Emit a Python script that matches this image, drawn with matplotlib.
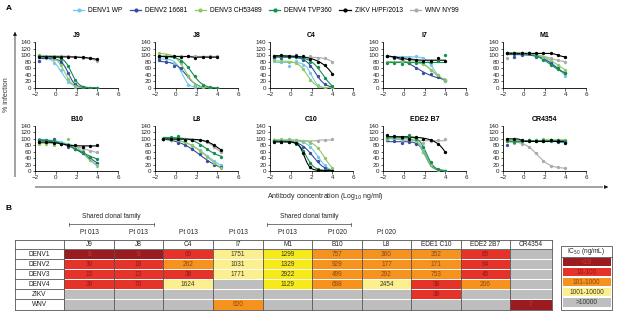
import numpy as np
import matplotlib
matplotlib.use('Agg')
import matplotlib.pyplot as plt
from matplotlib.lines import Line2D
from matplotlib.patches import Rectangle

plt.rcParams['font.family'] = ['Liberation Sans', 'DejaVu Sans']

# ---------------- data ----------------
series_names = ['DENV1 WP', 'DENV2 16681', 'DENV3 CH53489', 'DENV4 TVP360', 'ZIKV H/PF/2013', 'WNV NY99']
series_colors = ['#72C7EF', '#3A4C9F', '#8FC862', '#13904F', '#000000', '#ABABAB']

x_std = [-1.6, -0.9, -0.2, 0.5, 1.2, 1.9, 2.6, 3.3, 4.0]
x_l8 = [-1.2, -0.5, 0.2, 0.9, 1.6, 2.3, 3.0, 3.7, 4.4]

# each panel: DENV1, DENV2, DENV3, DENV4, ZIKV, WNV  (% infection)
J9 = [[97, 92, 75, 55, 18, 3, 1, 1, 1],
      [83, 95, 90, 80, 45, 12, 2, 1, 1],
      [100, 95, 88, 70, 28, 5, 1, 1, 1],
      [97, 95, 95, 88, 68, 25, 3, 1, 1],
      [95, 95, 95, 95, 95, 94, 93, 91, 87],
      [100, 98, 97, 96, 97, 95, 92, 90, 82]]
J8 = [[92, 88, 75, 55, 10, 2, 1, 1, 1],
      [85, 78, 68, 60, 35, 8, 2, 1, 1],
      [108, 100, 95, 75, 38, 8, 2, 1, 1],
      [95, 95, 95, 82, 63, 35, 8, 2, 1],
      [97, 95, 97, 95, 96, 92, 95, 93, 95],
      [98, 97, 97, 96, 97, 96, 95, 96, 97]]
C4 = [[82, 82, 68, 82, 70, 45, 8, 1, 1],
      [92, 90, 95, 100, 85, 68, 35, 12, 3],
      [85, 80, 80, 75, 58, 25, 5, 1, 1],
      [97, 95, 93, 95, 92, 80, 63, 30, 7],
      [97, 100, 97, 97, 96, 88, 80, 70, 43],
      [92, 93, 93, 95, 93, 98, 90, 90, 80]]
I7 = [[97, 92, 95, 95, 97, 90, 70, 40, 22],
      [98, 90, 90, 75, 60, 45, 42, 32, 25],
      [80, 80, 78, 80, 80, 72, 55, 40, 25],
      [75, 75, 74, 76, 76, 78, 80, 82, 100],
      [97, 95, 90, 88, 85, 82, 83, 90, 83],
      [97, 95, 93, 90, 85, 75, 55, 35, 22]]
M1 = [[105, 105, 105, 105, 100, 90, 80, 60, 38],
      [105, 95, 100, 108, 95, 88, 75, 60, 45],
      [108, 105, 108, 105, 100, 95, 85, 70, 55],
      [105, 103, 105, 105, 98, 85, 70, 58, 45],
      [105, 105, 105, 105, 108, 105, 105, 100, 95],
      [90, 105, 108, 105, 100, 95, 90, 85, 80]]
B10 = [[100, 95, 95, 90, 85, 70, 55, 35, 15],
       [95, 92, 100, 85, 75, 68, 55, 40, 25],
       [85, 85, 80, 85, 100, 70, 58, 35, 20],
       [95, 95, 95, 85, 80, 70, 58, 45, 38],
       [90, 90, 88, 85, 80, 80, 75, 78, 80],
       [95, 92, 90, 88, 82, 78, 70, 62, 58]]
L8 = [[100, 100, 95, 90, 78, 65, 48, 30, 18],
      [100, 95, 88, 82, 68, 52, 32, 20, 12],
      [100, 98, 95, 90, 80, 62, 45, 25, 10],
      [100, 105, 108, 100, 95, 82, 70, 55, 45],
      [100, 100, 100, 98, 98, 97, 92, 80, 65],
      [100, 98, 98, 100, 98, 95, 90, 75, 58]]
C10 = [[95, 92, 100, 95, 90, 75, 45, 18, 2],
       [95, 90, 95, 90, 75, 55, 30, 8, 1],
       [98, 100, 95, 95, 93, 88, 72, 40, 10],
       [92, 92, 90, 85, 62, 25, 5, 2, 1],
       [90, 90, 90, 88, 55, 12, 2, 1, 1],
       [95, 95, 95, 95, 92, 90, 92, 95, 100]]
EDE2_B7 = [[100, 102, 100, 100, 95, 65, 25, 3, 1],
           [95, 92, 88, 90, 85, 60, 18, 3, 1],
           [100, 105, 103, 100, 92, 58, 20, 3, 1],
           [105, 105, 103, 112, 100, 75, 28, 5, 1],
           [112, 108, 105, 100, 105, 100, 98, 85, 58],
           [100, 100, 95, 98, 95, 88, 92, 95, 100]]
CR4354 = [[95, 95, 95, 95, 95, 95, 95, 95, 95],
          [82, 100, 92, 95, 95, 92, 95, 90, 90],
          [95, 92, 92, 95, 95, 100, 98, 95, 95],
          [92, 90, 92, 95, 92, 98, 92, 95, 92],
          [100, 100, 95, 92, 92, 92, 95, 92, 88],
          [95, 88, 85, 75, 55, 30, 15, 12, 10]]

panel_titles = ['J9', 'J8', 'C4', 'I7', 'M1', 'B10', 'L8', 'C10', 'EDE2 B7', 'CR4354']
panel_data = [J9, J8, C4, I7, M1, B10, L8, C10, EDE2_B7, CR4354]
panel_x = [x_std] * 6 + [x_l8] + [x_std] * 3

# table B
table_cols = ['J9', 'J8', 'C4', 'I7', 'M1', 'B10', 'L8', 'EDE1 C10', 'EDE2 2B7', 'CR4354']
table_rows = ['DENV1', 'DENV2', 'DENV3', 'DENV4', 'ZIKV', 'WNV']
patients = ['Pt 013', 'Pt 013', 'Pt 013', 'Pt 013', 'Pt 013', 'Pt 020', 'Pt 020', '', '', '']
ic50_denv1 = [6, 9, 69, 1751, 1299, 757, 360, 352, 85, None]
ic50_denv2 = [30, 18, 262, 1031, 1329, 929, 177, 171, 64, None]
ic50_denv3 = [15, 13, 36, 1771, 2922, 499, 292, 753, 45, None]
ic50_denv4 = [39, 70, 1624, None, 1129, 698, 2454, 38, 206, None]
ic50_zikv = [None, None, None, None, None, None, None, 38, None, None]
ic50_wnv = [None, None, None, 620, None, None, None, None, None, 7]
ic50_table = [ic50_denv1, ic50_denv2, ic50_denv3, ic50_denv4, ic50_zikv, ic50_wnv]

bin_labels = ['<10', '10-100', '101-1000', '1001-10000', '>10000']
bin_edges = [10, 101, 1001, 10001]
bin_colors = ['#9B1C20', '#E6332A', '#F6921E', '#FCEF90', '#BEBEBE']
bin_text = ['#D9362E', '#8C1A1A', '#8A4A12', '#3A3A2A', '#333333']
bright_yellow = '#F6EA1A'


def fit_logistic(x, y):
    x = np.asarray(x, float)
    y = np.asarray(y, float)
    cs = np.arange(-2.5, 6.5001, 0.05)[:, None, None]
    hs = np.concatenate([np.arange(0.3, 2.0, 0.1), np.arange(2.0, 5.01, 0.25)])[None, :, None]
    s = 1.0 / (1.0 + 10.0 ** (hs * (x[None, None, :] - cs)))
    sm = s.mean(-1, keepdims=True)
    ym = y.mean()
    ds = s - sm
    var = (ds ** 2).sum(-1)
    cov = (ds * (y - ym)).sum(-1)
    b = np.where(var > 1e-9, cov / np.maximum(var, 1e-12), 0.0)
    a = ym - b * sm[..., 0]
    pred = a[..., None] + b[..., None] * s
    sse = ((pred - y) ** 2).sum(-1)
    sse = np.where(b < -3, np.inf, sse)
    i, j = np.unravel_index(np.argmin(sse), sse.shape)
    return a[i, j], b[i, j], cs[i, 0, 0], hs[0, j, 0]


W, H = 617, 316
fig = plt.figure(figsize=(W / 100, H / 100), dpi=100)

# overlay axes in pixel coordinates for annotations and the table
tax = fig.add_axes([0, 0, 1, 1])
tax.set_xlim(0, W)
tax.set_ylim(H, 0)
tax.axis('off')
tax.patch.set_visible(False)

col_left = [35, 155, 270, 383, 503]
row_top = [42, 126]
row_bot = [88, 171]
draw_order = [5, 0, 1, 2, 3, 4]

for k, (title, data, xs) in enumerate(zip(panel_titles, panel_data, panel_x)):
    r, c = divmod(k, 5)
    ax = fig.add_axes([col_left[c] / W, 1 - row_bot[r] / H, 83 / W, (row_bot[r] - row_top[r]) / H])
    for si in draw_order:
        ys = data[si]
        col = series_colors[si]
        a, b, c0, h = fit_logistic(xs, ys)
        xf = np.linspace(xs[0], xs[-1], 200)
        yf = a + b / (1 + 10 ** (h * (xf - c0)))
        ax.plot(xf, yf, color=col, lw=0.8, zorder=2)
        ax.plot(xs, ys, 'o', color=col, ms=2.4, mew=0, zorder=3)
    ax.set_xlim(-2, 6)
    ax.set_ylim(0, 140)
    ax.set_xticks([-2, 0, 2, 4, 6])
    ax.set_yticks(range(0, 141, 20))
    ax.tick_params(labelsize=4.5, length=1.8, width=0.5, pad=0.8, colors='#222222')
    for sp in ['top', 'right']:
        ax.spines[sp].set_visible(False)
    for sp in ['left', 'bottom']:
        ax.spines[sp].set_linewidth(0.6)
    ax.patch.set_visible(False)
    ax.set_title(title, fontsize=5, fontweight='bold', pad=3.5)

# legend
handles = [Line2D([0], [0], color=col, lw=0.9, marker='o', ms=3, mew=0) for col in series_colors]
fig.legend(handles, series_names, ncol=6, loc='center', bbox_to_anchor=(266 / W, 1 - 11 / H),
           frameon=False, fontsize=4.8, handlelength=1.7, handletextpad=0.6, columnspacing=1.1)

# panel letters
tax.text(6, 8, 'A', fontsize=6, fontweight='bold', va='center')
tax.text(6, 208, 'B', fontsize=6, fontweight='bold', va='center')

# axis arrows
tax.plot([15, 15], [177, 36], color='#9A9A9A', lw=1.3, solid_capstyle='butt')
tax.annotate('', xy=(15, 29), xytext=(15, 37),
             arrowprops=dict(arrowstyle='-|>', color='#111111', lw=0.6, mutation_scale=5))
tax.text(7, 95, '% infection', rotation=90, fontsize=5, ha='center', va='center', color='#333333')
tax.plot([35, 603], [187, 187], color='#9A9A9A', lw=1.3, solid_capstyle='butt')
tax.annotate('', xy=(611, 187), xytext=(602, 187),
             arrowprops=dict(arrowstyle='-|>', color='#111111', lw=0.6, mutation_scale=5))
tax.text(325, 197, 'Antibody concentration (Log$_{10}$ ng/ml)', fontsize=5, ha='center', va='center',
         color='#222222')

# ---------------- table ----------------
col_edges = [15, 64, 114, 163, 213, 263, 312, 362, 411, 461, 510, 552]
row_edges = [240, 249, 259, 269, 279, 289, 299, 310]
line_col = '#555555'
fs_t = 4.7

for i, rname in enumerate(table_rows):
    y0, y1 = row_edges[i + 1], row_edges[i + 2]
    tax.text((col_edges[0] + col_edges[1]) / 2, (y0 + y1) / 2, rname, fontsize=fs_t,
             ha='center', va='center', color='#222222')
    for j, cname in enumerate(table_cols):
        x0, x1 = col_edges[j + 1], col_edges[j + 2]
        v = ic50_table[i][j]
        if v is None:
            bi = 4
        else:
            bi = int(np.searchsorted(bin_edges, v, side='right'))
        fc = bin_colors[bi]
        if bi == 3 and cname == 'M1':
            fc = bright_yellow
        tax.add_patch(Rectangle((x0, y0 + 0.5), x1 - x0, y1 - y0 - 1.0, facecolor=fc, edgecolor='none'))
        if v is not None:
            tax.text((x0 + x1) / 2, (y0 + y1) / 2 + 0.3, str(v), fontsize=fs_t, ha='center', va='center',
                     color=bin_text[bi])

# header row
for j, cname in enumerate(table_cols):
    x0, x1 = col_edges[j + 1], col_edges[j + 2]
    tax.text((x0 + x1) / 2, (row_edges[0] + row_edges[1]) / 2 + 0.3, cname, fontsize=fs_t,
             ha='center', va='center', color='#222222')
    if patients[j]:
        tax.text((x0 + x1) / 2, 232, patients[j], fontsize=fs_t, ha='center', va='center', color='#222222')

# grid lines
for xe in col_edges:
    tax.plot([xe, xe], [row_edges[0], row_edges[-1]], color=line_col, lw=0.6)
for ye in [row_edges[0], row_edges[1], row_edges[-1]]:
    tax.plot([col_edges[0], col_edges[-1]], [ye, ye], color=line_col, lw=0.6)
for ye in row_edges[2:-1]:
    tax.plot([col_edges[0], col_edges[1]], [ye, ye], color=line_col, lw=0.6)

# shared clonal family brackets
for (bx0, bx1) in [(69, 154), (267, 351)]:
    tax.plot([bx0, bx1], [224, 224], color='#444444', lw=0.5)
    tax.plot([bx0, bx0], [222.5, 225.5], color='#444444', lw=0.5)
    tax.plot([bx1, bx1], [222.5, 225.5], color='#444444', lw=0.5)
    tax.text((bx0 + bx1) / 2, 217, 'Shared clonal family', fontsize=fs_t, ha='center', va='center',
             color='#222222')

# IC50 legend box
lx0, lx1 = 561, 612
tax.add_patch(Rectangle((lx0, 246), lx1 - lx0, 64, facecolor='white', edgecolor=line_col, lw=0.6))
tax.plot([lx0, lx1], [257, 257], color=line_col, lw=0.6)
tax.text((lx0 + lx1) / 2, 251.5, 'IC$_{50}$ (ng/mL)', fontsize=fs_t, ha='center', va='center', color='#222222')
leg_rows = [257, 267, 277, 287, 297, 308]
for bi, lab in enumerate(bin_labels):
    y0, y1 = leg_rows[bi], leg_rows[bi + 1]
    tax.add_patch(Rectangle((lx0 + 1.5, y0 + 0.7), lx1 - lx0 - 3, y1 - y0 - 1.4,
                            facecolor=bin_colors[bi], edgecolor='none'))
    tax.text((lx0 + lx1) / 2, (y0 + y1) / 2 + 0.3, lab, fontsize=fs_t, ha='center', va='center',
             color=bin_text[bi])

fig.savefig('out.png', dpi=100)
